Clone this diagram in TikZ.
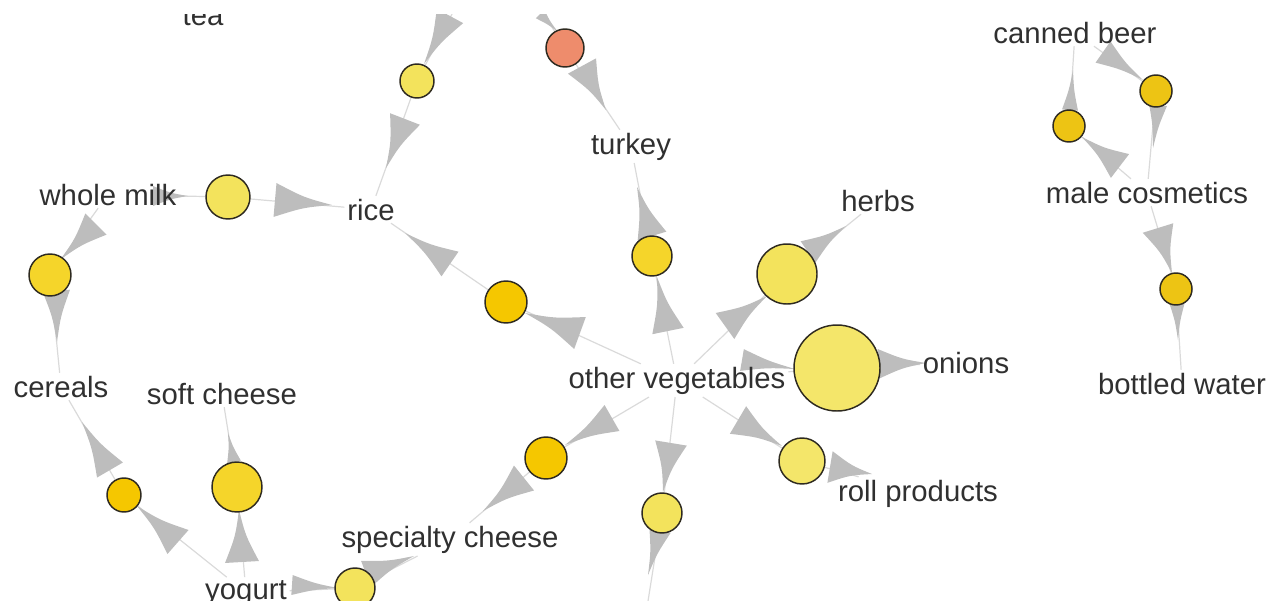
\documentclass[tikz,border=0pt]{standalone}
\usepackage{fontspec}
\setmainfont{Liberation Sans}
\usetikzlibrary{calc}
\definecolor{txt}{HTML}{303030}
\definecolor{wedgec}{HTML}{BDBDBD}
\definecolor{linec}{HTML}{DADADA}
\definecolor{rim}{HTML}{2E2A20}
\definecolor{cLight}{HTML}{F3E35C}
\definecolor{cPale}{HTML}{F4E66A}
\definecolor{cMid}{HTML}{F5D52A}
\definecolor{cGold}{HTML}{F5C700}
\definecolor{cDeep}{HTML}{EDC414}
\definecolor{cSalmon}{HTML}{EE8C6C}
\pgfdeclarelayer{bg}
\pgfsetlayers{bg,main}
\newcommand\wdg[3]{%
  \coordinate (wB) at (#1);
  \coordinate (wT) at (#2);
  \coordinate (wM) at ($(wB)!0.5!(wT)$);
  \coordinate (wCa) at ($(wB)!#3*0.75pt!90:(wT)$);
  \coordinate (wCb) at ($(wB)!#3*0.75pt!-90:(wT)$);
  \coordinate (wSa) at ($(wCa)!0.5!(wT)$);
  \coordinate (wSb) at ($(wCb)!0.5!(wT)$);
  \coordinate (wKa) at ($(wSa)!0.4!(wM)$);
  \coordinate (wKb) at ($(wSb)!0.4!(wM)$);
  \fill[wedgec] (wCa) .. controls (wKa) .. (wT) .. controls (wKb) .. (wCb) -- cycle;}
\begin{document}
\begin{tikzpicture}[x=0.75pt,y=-0.75pt,
  lab/.style={text=txt,font=\fontsize{22}{26}\selectfont,inner sep=2pt,anchor=base},
  rulenode/.style={circle,draw=rim,line width=1.1pt,inner sep=0pt,minimum size=#1*1.5pt},
  conn/.style={draw=linec,line width=0.9pt}]
\useasboundingbox (0,0) rectangle (1274,600);
\clip (0,14) rectangle (1274,600);
% item labels
\node[lab] (tea) at (203,25) {tea};
\node[lab] (milk) at (108,205) {whole milk};
\node[lab] (rice) at (371,220) {rice};
\node[lab] (turkey) at (631,154) {turkey};
\node[lab] (herbs) at (878,211) {herbs};
\node[lab] (beer) at (1075,43) {canned beer};
\node[lab] (cosm) at (1147,203) {male cosmetics};
\node[lab] (cereals) at (61,397) {cereals};
\node[lab] (soft) at (222,404) {soft cheese};
\node[lab] (veg) at (677,388) {other vegetables};
\node[lab] (onions) at (966,373) {onions};
\node[lab] (spec) at (450,547) {specialty cheese};
\node[lab] (yogurt) at (246,599) {yogurt};
\node[lab] (roll) at (918,501) {roll products};
\node[lab] (water) at (1182,394) {bottled water};
% rule circles
\node[rulenode=17,fill=cLight] (r1) at (417,81) {};
\node[rulenode=19,fill=cSalmon] (r2) at (565,48) {};
\node[rulenode=22,fill=cLight] (r3) at (228,197) {};
\node[rulenode=21,fill=cMid] (r4) at (50,275) {};
\node[rulenode=21,fill=cGold] (r5) at (506,302) {};
\node[rulenode=20,fill=cMid] (r6) at (652,256) {};
\node[rulenode=30,fill=cLight] (r7) at (787,274) {};
\node[rulenode=43,fill=cPale] (r8) at (837,368) {};
\node[rulenode=23,fill=cPale] (r9) at (802,461) {};
\node[rulenode=21,fill=cGold] (r10) at (546,458) {};
\node[rulenode=20,fill=cLight] (r11) at (662,513) {};
\node[rulenode=25,fill=cMid] (r12) at (237,487) {};
\node[rulenode=17,fill=cGold] (r13) at (124,495) {};
\node[rulenode=20,fill=cLight] (r14) at (355,588) {};
\node[rulenode=16,fill=cDeep] (r15) at (1156,91) {};
\node[rulenode=16,fill=cDeep] (r16) at (1069,126) {};
\node[rulenode=16,fill=cDeep] (r17) at (1176,289) {};
\coordinate (ext1) at (462,-5);
\coordinate (ext2) at (532,-5);
\coordinate (ext3) at (645,620);
\begin{pgfonlayer}{bg}
\clip (0,14) rectangle (1274,600);
% thin connectors
\foreach \a/\b in {ext1/r1,r1/rice,milk/r3,r3/rice,milk/r4,r4/cereals,r13/cereals,
  yogurt/r13,r12/soft,yogurt/r12,yogurt/r14,r14/spec,r10/spec,veg/r10,veg/r5,r5/rice,
  r6/turkey,veg/r6,veg/r7,r7/herbs,veg/r8,r8/onions,veg/r9,r9/roll,veg/r11,r11/ext3,
  r16/beer,cosm/r16,beer/r15,r15/cosm,cosm/r17,r17/water,ext2/r2,r2/turkey}
  \draw[conn] (\a) -- (\b);
% arrow wedges
\wdg{450,16}{424,64}{15}
\wdg{405,119}{386,168}{16}
\wdg{153,196}{188,196}{10}
\wdg{275,200}{332,205}{17}
\wdg{96,224}{61,259}{15}
\wdg{56,290}{57,342}{14}
\wdg{110,470}{82,422}{15}
\wdg{178,542}{137,506}{16}
\wdg{234,462}{228,433}{7}
\wdg{242,562}{239,510}{17}
\wdg{292,585}{338,588}{10}
\wdg{366,574}{414,556}{14}
\wdg{524,478}{483,511}{16}
\wdg{612,418}{565,445}{15}
\wdg{580,333}{525,313}{17}
\wdg{450,264}{405,233}{15}
\wdg{652,236}{637,187}{15}
\wdg{668,331}{657,277}{16}
\wdg{725,326}{767,296}{16}
\wdg{808,252}{846,226}{13}
\wdg{742,360}{795,369}{11}
\wdg{878,364}{926,363}{15}
\wdg{738,420}{782,446}{16}
\wdg{830,467}{872,474}{16}
\wdg{671,443}{663,492}{16}
\wdg{660,530}{648,575}{11}
\wdg{1070,110}{1073,70}{8}
\wdg{1120,166}{1082,137}{15}
\wdg{1103,52}{1143,80}{13}
\wdg{1158,105}{1153,148}{9}
\wdg{1158,228}{1172,273}{16}
\wdg{1177,302}{1178,340}{8}
\wdg{540,14}{558,32}{6}
\wdg{582,66}{606,110}{16}
\end{pgfonlayer}
\end{tikzpicture}
\end{document}
